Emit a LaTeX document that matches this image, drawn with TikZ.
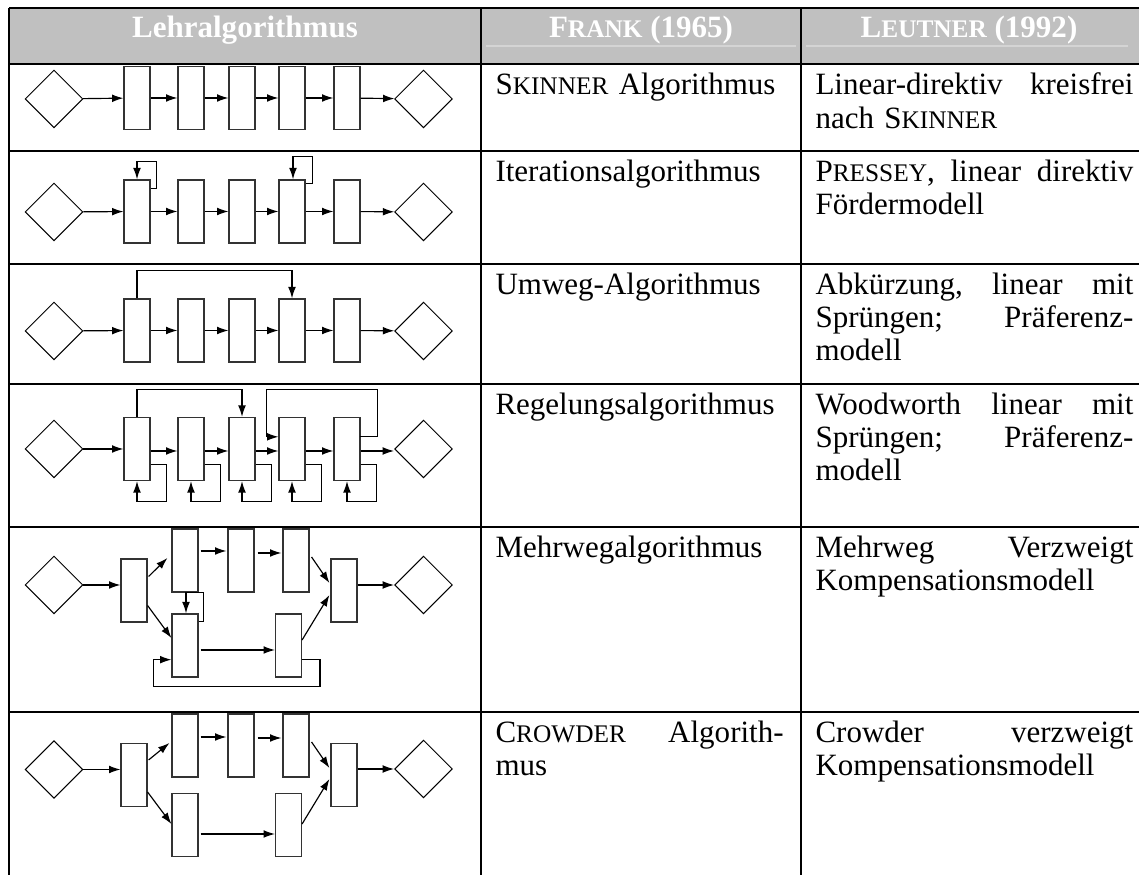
\documentclass[tikz,border=0pt]{standalone}
\usepackage{fontspec}
\setmainfont{Liberation Serif}
\usetikzlibrary{shapes.geometric,arrows.meta,calc}
\definecolor{kopfgrau}{HTML}{C0C0C0}
\definecolor{kopflinie}{HTML}{D4D4D4}
\newcommand{\ksc}[2]{#1{\fontsize{9.8}{12.9}\selectfont #2}}
\tikzset{
  raute/.style={diamond, draw, line width=0.4pt, minimum width=22.4pt, minimum height=22.4pt, inner sep=0pt},
  schritt/.style={draw=black!80, line width=0.5pt, minimum width=10pt, minimum height=24.4pt, inner sep=0pt},
  pfeil/.style={-{Latex[length=4.4pt,width=3pt]}, line width=0.45pt},
  tabline/.style={line width=1.15pt},
  zelle/.style={anchor=north west, inner sep=0pt, align=left, font=\fontsize{12}{12.9}\selectfont},
  kopf/.style={anchor=base, text=white, inner sep=0pt, font=\fontsize{12}{12.9}\selectfont\bfseries}
}
\begin{document}
\begin{tikzpicture}[x=0.387pt,y=-0.387pt]
    \useasboundingbox (0,0) rectangle (1139,875);
    % Tabelle
    \fill[kopfgrau] (9,8) rectangle (1139,64);
    \draw[kopflinie,line width=0.4pt] (486,46) -- (796,46);
    \draw[kopflinie,line width=0.4pt] (806,46) -- (1128,46);
    \draw[tabline] (9,8) -- (1139,8);
    \draw[tabline] (9,64) -- (1139,64);
    \draw[tabline] (9,151) -- (1139,151);
    \draw[tabline] (9,264) -- (1139,264);
    \draw[tabline] (9,384) -- (1139,384);
    \draw[tabline] (9,527) -- (1139,527);
    \draw[tabline] (9,712) -- (1139,712);
    \draw[tabline] (9,8) -- (9,875);
    \draw[tabline] (481,8) -- (481,875);
    \draw[tabline] (801,8) -- (801,875);
    \node[kopf] (h1) at (245,38) {Lehralgorithmus};
    \node[kopf] (h2) at (641,38) {\ksc{F}{RANK} (1965)};
    \node[kopf] (h3) at (969,38) {\ksc{L}{EUTNER} (1992)};
    % Texte
    \node[zelle,text width=111.5pt] (t1b) at (495,71) {\strut\ksc{S}{KINNER} Algorithmus};
    \node[zelle,text width=123pt] (t1c) at (815,71) {\strut Linear-direktiv\hfill kreisfrei\\ nach \ksc{S}{KINNER}};
    \node[zelle,text width=111.5pt] (t2b) at (495,157.2) {\strut Iterationsalgorithmus};
    \node[zelle,text width=123pt] (t2c) at (815,157.2) {\strut\ksc{P}{RESSEY},\hfill linear\hfill direktiv\\ Fördermodell};
    \node[zelle,text width=111.5pt] (t3b) at (495,270.2) {\strut Umweg-Algorithmus};
    \node[zelle,text width=123pt] (t3c) at (815,270.2) {\strut Abkürzung,\hfill linear\hfill mit\\ Sprüngen;\hfill Präferenz-\\ modell};
    \node[zelle,text width=111.5pt] (t4b) at (495,390.2) {\strut Regelungsalgorithmus};
    \node[zelle,text width=123pt] (t4c) at (815,390.2) {\strut Woodworth\hfill linear\hfill mit\\ Sprüngen;\hfill Präferenz-\\ modell};
    \node[zelle,text width=111.5pt] (t5b) at (495,533.2) {\strut Mehrwegalgorithmus};
    \node[zelle,text width=123pt] (t5c) at (815,533.2) {\strut Mehrweg\hfill Verzweigt\\ Kompensationsmodell};
    \node[zelle,text width=111.5pt] (t6b) at (495,718.2) {\strut\ksc{C}{ROWDER}\hfill Algorith-\\ mus};
    \node[zelle,text width=123pt] (t6c) at (815,718.2) {\strut Crowder\hfill verzweigt\\ Kompensationsmodell};
    % Skinner
    \node[raute] (dl1) at (54,99) {};
    \node[schritt] (r1a) at (137,98) {};
    \node[schritt] (r1b) at (191,98) {};
    \node[schritt] (r1c) at (242,98) {};
    \node[schritt] (r1d) at (292,98) {};
    \node[schritt] (r1e) at (347,98) {};
    \node[raute] (dr1) at (423.5,99) {};
    \draw[pfeil] (dl1) -- (r1a);
    \draw[pfeil] (r1a) -- (r1b);
    \draw[pfeil] (r1b) -- (r1c);
    \draw[pfeil] (r1c) -- (r1d);
    \draw[pfeil] (r1d) -- (r1e);
    \draw[pfeil] (r1e) -- (dr1);
    % Iteration
    \node[raute] (dl2) at (54,212) {};
    \node[schritt] (r2a) at (137,211.5) {};
    \node[schritt] (r2b) at (191,211.5) {};
    \node[schritt] (r2c) at (242,211.5) {};
    \node[schritt] (r2d) at (292,211.5) {};
    \node[schritt] (r2e) at (347,211.5) {};
    \node[raute] (dr2) at (423.5,212) {};
    \draw[pfeil] (dl2) -- (r2a);
    \draw[pfeil] (r2a) -- (r2b);
    \draw[pfeil] (r2b) -- (r2c);
    \draw[pfeil] (r2c) -- (r2d);
    \draw[pfeil] (r2d) -- (r2e);
    \draw[pfeil] (r2e) -- (dr2);
    \draw[pfeil] ($(r2a.north east)+(0,9)$) -- ++(6,0) |- ($(r2a.north)+(0,-18)$) -- (r2a.north);
    \draw[pfeil] ($(r2d.north east)+(0,4)$) -- ++(7,0) |- ($(r2d.north)+(1,-23)$) -- ($(r2d.north)+(1,0)$);
    % Umweg
    \node[raute] (dl3) at (54,331) {};
    \node[schritt] (r3a) at (137,330.5) {};
    \node[schritt] (r3b) at (191,330.5) {};
    \node[schritt] (r3c) at (242,330.5) {};
    \node[schritt] (r3d) at (292,330.5) {};
    \node[schritt] (r3e) at (347,330.5) {};
    \node[raute] (dr3) at (423.5,331) {};
    \draw[pfeil] (dl3) -- (r3a);
    \draw[pfeil] (r3a) -- (r3b);
    \draw[pfeil] (r3b) -- (r3c);
    \draw[pfeil] (r3c) -- (r3d);
    \draw[pfeil] (r3d) -- (r3e);
    \draw[pfeil] (r3e) -- (dr3);
    \draw[pfeil] (r3a.north) -- ++(0,-28) -| (r3d.north);
    % Regelung
    \node[raute] (dl4) at (54,449) {};
    \node[schritt] (r4a) at (137,449) {};
    \node[schritt] (r4b) at (191,449) {};
    \node[schritt] (r4c) at (242,449) {};
    \node[schritt] (r4d) at (292,449) {};
    \node[schritt] (r4e) at (347,449) {};
    \node[raute] (dr4) at (423.5,449) {};
    \draw[pfeil] (dl4) -- (r4a);
    \draw[pfeil] ($(r4a.east)+(0,2)$) -- ($(r4b.west)+(0,2)$);
    \draw[pfeil] ($(r4b.east)+(0,2)$) -- ($(r4c.west)+(0,2)$);
    \draw[pfeil] ($(r4c.east)+(0,2)$) -- ($(r4d.west)+(0,2)$);
    \draw[pfeil] ($(r4d.east)+(0,2)$) -- ($(r4e.west)+(0,2)$);
    \draw[pfeil] ($(r4e.east)+(0,2)$) -- ($(dr4.west)+(0,2)$);
    \draw[pfeil] (r4a.north) -- ++(0,-27) -| (r4c.north);
    \draw[pfeil] ($(r4e.north east)+(-1,20)$) -- ++(18,0) |- ($(r4d.north west)+(-12,-27)$) |- ($(r4d.north west)+(0,20)$);
    \draw[pfeil] ($(r4a.south east)+(0,-17)$) -- ++(16,0) |- ($(r4a.south)+(0,20)$) -- (r4a.south);
    \draw[pfeil] ($(r4b.south east)+(0,-17)$) -- ++(16,0) |- ($(r4b.south)+(0,20)$) -- (r4b.south);
    \draw[pfeil] ($(r4c.south east)+(0,-17)$) -- ++(16,0) |- ($(r4c.south)+(0,20)$) -- (r4c.south);
    \draw[pfeil] ($(r4d.south east)+(0,-17)$) -- ++(16,0) |- ($(r4d.south)+(0,20)$) -- (r4d.south);
    \draw[pfeil] ($(r4e.south east)+(0,-17)$) -- ++(16,0) |- ($(r4e.south)+(0,20)$) -- (r4e.south);
    % Mehrweg
    \node[raute] (dl5) at (54,585) {};
    \node[schritt] (r5a) at (134,590.5) {};
    \node[schritt] (r5b) at (185,560.5) {};
    \node[schritt] (r5c) at (241,560.5) {};
    \node[schritt] (r5d) at (296,560.5) {};
    \node[schritt] (r5e) at (344,590.5) {};
    \node[schritt] (r5f) at (185,645.5) {};
    \node[schritt] (r5g) at (288.5,645.5) {};
    \node[raute] (dr5) at (423.5,585) {};
    \draw[pfeil] (dl5) -- ($(r5a.west)+(0,-5.5)$);
    \draw[pfeil] ($(r5a.east)+(1,-14)$) -- ($(r5b.west)+(-4,-2.5)$);
    \draw[pfeil] ($(r5b.east)+(2,-9.5)$) -- ($(r5c.west)+(-1,-9.5)$);
    \draw[pfeil] ($(r5c.east)+(3,-7.5)$) -- ($(r5d.west)+(-1,-7.5)$);
    \draw[pfeil] ($(r5d.east)+(2,-3.5)$) -- ($(r5e.west)+(-1,-7.5)$);
    \draw[pfeil] ($(r5a.east)+(0,15)$) -- ($(r5f.west)+(0,-7.5)$);
    \draw[pfeil] ($(r5f.east)+(2,4.5)$) -- ($(r5g.west)+(0,4.5)$);
    \draw[pfeil] ($(r5g.east)+(0,-5.5)$) -- ($(r5e.west)+(-1,4.5)$);
    \draw[pfeil] ($(r5e.east)+(0,-5.5)$) -- (dr5);
    \draw[pfeil] ($(r5f.north east)+(0,8)$) -- ++(5,0) |- ($(r5f.north)+(1,-21)$) -- ($(r5f.north)+(1,0)$);
    \draw[pfeil] ($(r5g.south east)+(0,-18)$) -- ++(18,0) |- ($(r5f.south west)+(-18,9)$) |- ($(r5f.south west)+(0,-18)$);
    % Crowder
    \node[raute] (dl6) at (54,769.5) {};
    \node[schritt] (r6a) at (134,775) {};
    \node[schritt] (r6b) at (185,745.5) {};
    \node[schritt] (r6c) at (241,745.5) {};
    \node[schritt] (r6d) at (296,745.5) {};
    \node[schritt] (r6e) at (344,775) {};
    \node[schritt] (r6f) at (185,825) {};
    \node[schritt] (r6g) at (288.5,825) {};
    \node[raute] (dr6) at (423.5,769) {};
    \draw[pfeil] (dl6) -- ($(r6a.west)+(0,-5.5)$);
    \draw[pfeil] ($(r6a.east)+(1,-15)$) -- ($(r6b.west)+(-2,-2.5)$);
    \draw[pfeil] ($(r6b.east)+(2,-8.5)$) -- ($(r6c.west)+(-1,-8.5)$);
    \draw[pfeil] ($(r6c.east)+(3,-7.5)$) -- ($(r6d.west)+(-1,-7.5)$);
    \draw[pfeil] ($(r6d.east)+(2,-3.5)$) -- ($(r6e.west)+(-1,-7)$);
    \draw[pfeil] ($(r6a.east)+(0,17)$) -- ($(r6f.west)+(0,-1)$);
    \draw[pfeil] ($(r6f.east)+(2,9)$) -- ($(r6g.west)+(0,9)$);
    \draw[pfeil] ($(r6g.east)+(0,-1)$) -- ($(r6e.west)+(-1,4)$);
    \draw[pfeil] ($(r6e.east)+(0,-6)$) -- (dr6);
\end{tikzpicture}
\end{document}
